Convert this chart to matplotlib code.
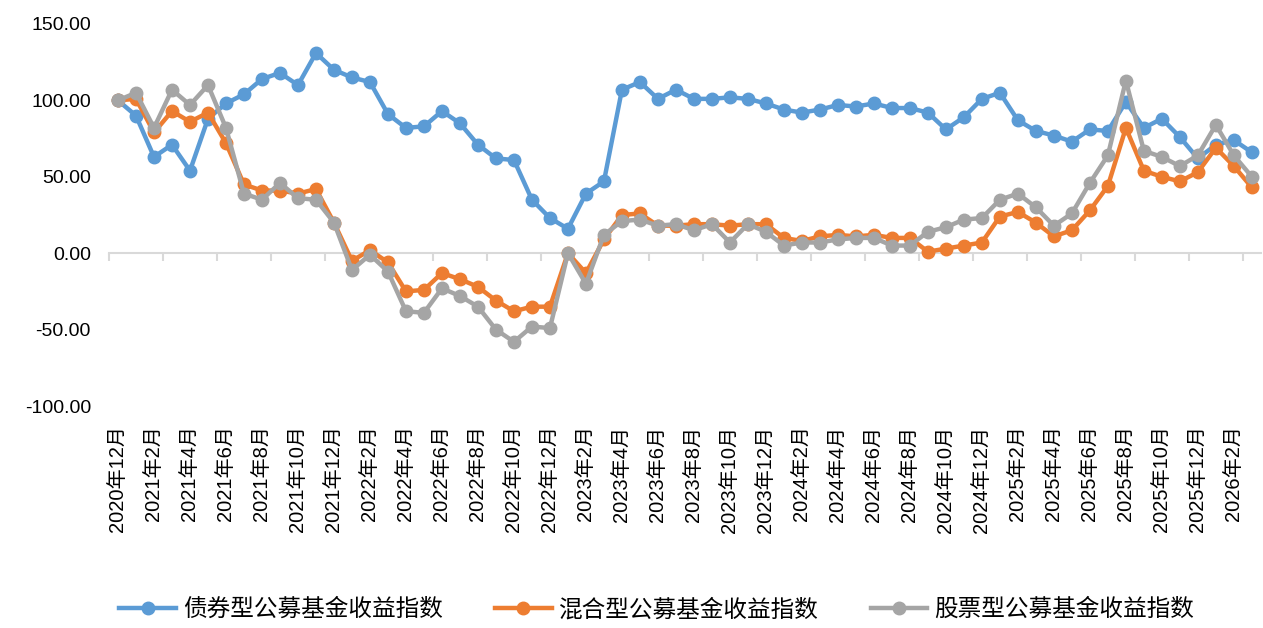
import numpy as np
import matplotlib
matplotlib.use('Agg')
import matplotlib.pyplot as plt

plt.rcParams['font.family'] = ['Liberation Sans', 'Noto Sans CJK SC', 'DejaVu Sans']

# months from 2020-12 to 2026-03
months = []
y, m = 2020, 12
for _ in range(64):
    months.append(f'{y}年{m}月')
    m += 1
    if m > 12:
        y, m = y + 1, 1

bond = [100, 90, 63, 71, 54, 88, 98, 104, 114, 118, 110, 131, 120, 115, 112, 91,
        82, 83, 93, 85, 71, 62, 61, 35, 23, 16, 39, 47, 107, 112, 101, 107,
        101, 101, 102, 101, 98, 94, 92, 94, 97, 96, 98, 95, 95, 92, 81, 89,
        101, 105, 87, 80, 77, 73, 81, 80, 99, 82, 88, 76, 62, 71, 74, 66]
mixed = [100, 101, 79, 93, 86, 92, 72, 45, 41, 41, 39, 42, 20, -5, 2, -6,
         -25, -24, -13, -17, -22, -31, -38, -35, -35, 0, -13, 9, 25, 26, 18, 18,
         19, 19, 18, 19, 19, 10, 8, 11, 12, 11, 12, 10, 10, 1, 3, 5,
         7, 24, 27, 20, 11, 15, 28, 44, 82, 54, 50, 47, 53, 69, 57, 43]
stock = [100, 105, 82, 107, 97, 110, 82, 39, 35, 46, 36, 35, 20, -11, -1, -12,
         -38, -39, -23, -28, -35, -50, -58, -48, -49, 0, -20, 12, 21, 22, 18, 19,
         15, 19, 7, 19, 14, 5, 7, 7, 9, 10, 10, 5, 5, 14, 17, 22,
         23, 35, 39, 30, 18, 26, 46, 64, 113, 67, 63, 57, 64, 84, 64, 50]

names = ['债券型公募基金收益指数', '混合型公募基金收益指数', '股票型公募基金收益指数']
colors = ['#5B9BD5', '#ED7D31', '#A5A5A5']

fig = plt.figure(figsize=(12.63, 6.28), dpi=100)
ax = fig.add_axes([0.0863, 0.3535, 0.912, 0.6083])

x = np.arange(len(months))
for vals, name, c in zip([bond, mixed, stock], names, colors):
    ax.plot(x, vals, color=c, lw=3.2, marker='o', ms=9, label=name)

ax.set_xlim(-0.5, len(months) - 0.5)
ax.set_ylim(-100, 150)
yt = [-100, -50, 0, 50, 100, 150]
ax.set_yticks(yt)
ax.set_yticklabels([f'{v:.2f}' for v in yt])
ax.tick_params(axis='y', length=0, labelsize=14, pad=13)

for s in ['top', 'right', 'left']:
    ax.spines[s].set_visible(False)
ax.spines['bottom'].set_position(('data', 0))
ax.spines['bottom'].set_color('#D9D9D9')
ax.spines['bottom'].set_linewidth(1.5)
ax.spines['bottom'].set_zorder(0)
ax.set_xticks(np.arange(-0.5, len(months), 3))
ax.set_xticklabels([])
ax.tick_params(axis='x', length=6, width=1.5, color='#D9D9D9', direction='out')

# category labels below the plot area
sec = ax.secondary_xaxis(0.0)
sec.set_xticks(x[::2])
sec.set_xticklabels(months[::2], rotation=90)
sec.tick_params(length=0, labelsize=14.5, pad=14)
sec.spines['bottom'].set_visible(False)

fig.legend(loc='center', bbox_to_anchor=(0.52, 0.029), ncol=3, frameon=False,
           fontsize=17, handlelength=2.4, columnspacing=2.2, handletextpad=0.3)

fig.savefig('out.png', dpi=100)
